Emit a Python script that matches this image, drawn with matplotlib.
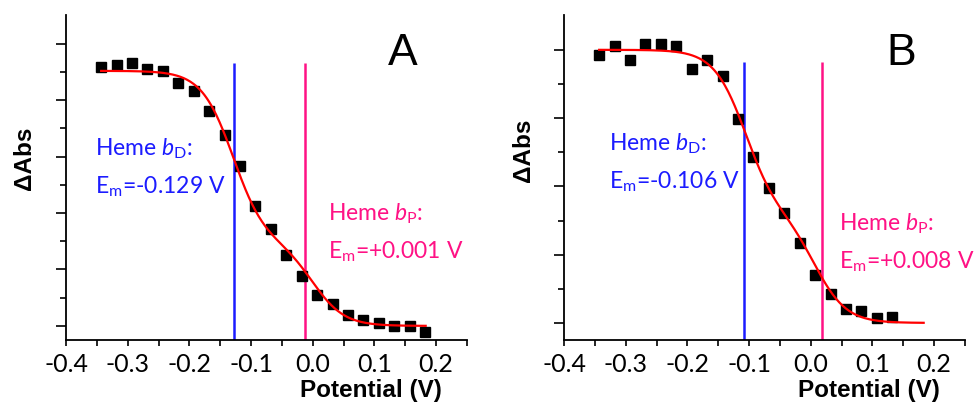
import matplotlib
matplotlib.use("Agg")
import matplotlib.pyplot as plt
import numpy as np

# --- data ---
potential_a = [-0.343, -0.318, -0.293, -0.268, -0.243, -0.218, -0.193, -0.168,
               -0.143, -0.118, -0.093, -0.068, -0.043, -0.018, 0.007, 0.032,
               0.057, 0.082, 0.107, 0.132, 0.157, 0.182]
dabs_a = [4.58, 4.63, 4.66, 4.56, 4.51, 4.31, 4.16, 3.81, 3.39, 2.84, 2.12,
          1.71, 1.26, 0.89, 0.55, 0.39, 0.20, 0.11, 0.06, -0.01, -0.01, -0.10]

potential_b = [-0.343, -0.318, -0.293, -0.268, -0.243, -0.218, -0.193, -0.168,
               -0.143, -0.118, -0.093, -0.068, -0.043, -0.018, 0.007, 0.032,
               0.057, 0.082, 0.107, 0.132]
dabs_b = [3.93, 4.06, 3.85, 4.08, 4.08, 4.06, 3.72, 3.85, 3.62, 2.99, 2.43,
          1.97, 1.61, 1.17, 0.70, 0.42, 0.20, 0.18, 0.07, 0.09]

# two-component Nernst fit (n = 1): Em values and amplitudes
em_a = [-0.129, 0.001]
amp_a = [3.04, 1.48]
em_b = [-0.106, 0.008]
amp_b = [2.40, 1.60]
fit_range = (-0.343, 0.183)

# where the marker lines are drawn in the figure
line_a = [-0.128, -0.012]
line_b = [-0.109, 0.018]
line_top = [4.66, 3.82]

label_d = ["-0.129", "-0.106"]
label_p = ["+0.001", "+0.008"]

BLUE = "#1c1cff"
PINK = "#ff1285"
RT_F = 0.0257

plt.rcParams["mathtext.fontset"] = "custom"
plt.rcParams["mathtext.rm"] = "Lato"
plt.rcParams["mathtext.it"] = "Lato:italic"

fig = plt.figure(figsize=(9.79, 4.04), dpi=100)
ax_a = fig.add_axes([66 / 979, 64 / 404, 401 / 979, 325 / 404])
ax_b = fig.add_axes([564 / 979, 64 / 404, 401 / 979, 325 / 404])


def nernst(e, ems, amps):
    return sum(a / (1 + np.exp((e - m) / RT_F)) for m, a in zip(ems, amps))


panels = [
    (ax_a, potential_a, dabs_a, em_a, amp_a, line_a, line_top[0], "A",
     (-0.25, 5.51), 6),
    (ax_b, potential_b, dabs_b, em_b, amp_b, line_b, line_top[1], "B",
     (-0.25, 4.51), 5),
]

for ax, x, y, ems, amps, lines, ltop, letter, ylim, nmaj in panels:
    e = np.linspace(*fit_range, 300)
    ax.vlines(lines[0], ylim[0], ltop, color=BLUE, lw=1.8, zorder=2)
    ax.vlines(lines[1], ylim[0], ltop, color=PINK, lw=1.8, zorder=2)
    ax.plot(x, y, "s", color="black", ms=6.8, zorder=3)
    ax.plot(e, nernst(e, ems, amps), color="red", lw=1.6, zorder=4)

    ax.set_xlim(-0.4, 0.25)
    ax.set_ylim(*ylim)
    for s in ["top", "right"]:
        ax.spines[s].set_visible(False)
    for s in ["left", "bottom"]:
        ax.spines[s].set_linewidth(1.3)

    ax.set_xticks(np.arange(-0.4, 0.21, 0.1))
    ax.set_xticks(np.arange(-0.35, 0.26, 0.1), minor=True)
    ax.set_xticklabels(["-0.4", "-0.3", "-0.2", "-0.1", "0.0", "0.1", "0.2"],
                       family="Lato", fontsize=18)
    ax.set_yticks(np.arange(0, nmaj))
    ax.set_yticks(np.arange(0.5, nmaj - 0.9, 1.0), minor=True)
    ax.set_yticklabels([])
    ax.tick_params(axis="x", which="both", direction="out", length=4,
                   width=1.2, pad=5)
    ax.tick_params(axis="y", which="major", direction="out", length=7,
                   width=1.2)
    ax.tick_params(axis="y", which="minor", direction="out", length=4,
                   width=1.2)

    ax.text(0.76, -0.155, "Potential (V)", transform=ax.transAxes,
            ha="center", va="center", family="Liberation Sans",
            fontweight="bold", fontsize=17.5)
    ax.text(0.84, 0.88, letter, transform=ax.transAxes, ha="center",
            va="center", family="Liberation Sans", fontsize=32)

fig.text(25 / 979, 1 - 158 / 404, "ΔAbs", rotation=90,
         ha="center", va="center", family="Liberation Sans",
         fontweight="bold", fontsize=17.5)
fig.text(524 / 979, 1 - 150 / 404, "ΔAbs", rotation=90,
         ha="center", va="center", family="Liberation Sans",
         fontweight="bold", fontsize=17.5)

# annotation positions in figure pixels (left x, baseline y from top)
ann = [
    (95, 155, 193, BLUE, "D", label_d[0]),
    (328, 220, 258, PINK, "P", label_p[0]),
    (609, 150, 188, BLUE, "D", label_d[1]),
    (839, 230, 268, PINK, "P", label_p[1]),
]
for x0, yb1, yb2, col, sub, val in ann:
    fig.text(x0 / 979, 1 - yb1 / 404,
             r"Heme $\mathit{b}_{\mathrm{" + sub + "}}$:",
             ha="left", va="baseline", color=col, family="Lato", fontsize=16.5)
    fig.text(x0 / 979, 1 - yb2 / 404,
             r"E$_{\mathrm{m}}$=" + val + " V",
             ha="left", va="baseline", color=col, family="Lato", fontsize=16.5)

fig.savefig("out.png", dpi=100)
